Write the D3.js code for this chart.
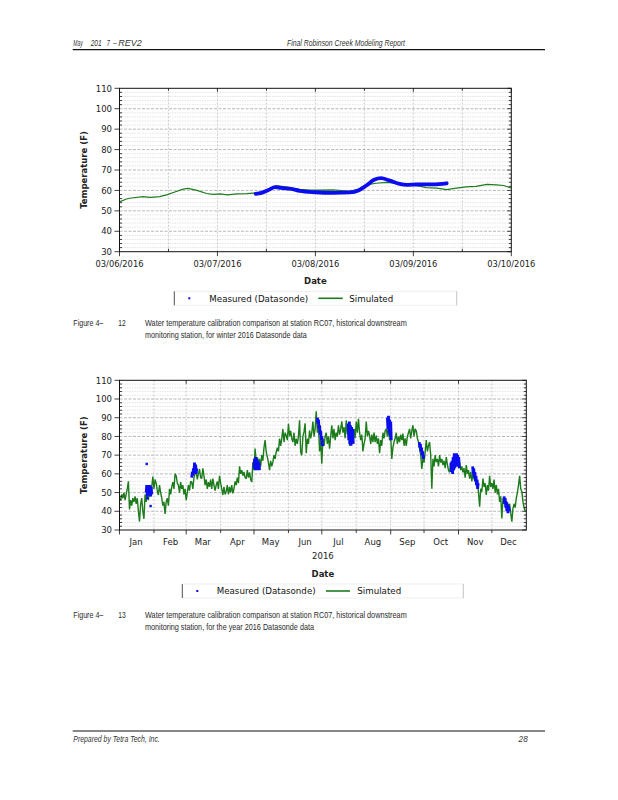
<!DOCTYPE html>
<html><head><meta charset="utf-8">
<script src="https://cdn.jsdelivr.net/npm/d3@7"></script>
<style>body{margin:0;background:#fff}svg{display:block}</style>
</head><body>
<svg id="page" width="618" height="800"></svg>
<script>
// ---------- data ----------
const yTickValues = [30, 40, 50, 60, 70, 80, 90, 100, 110];
const topXTickLabels = ["03/06/2016", "03/07/2016", "03/08/2016", "03/09/2016", "03/10/2016"];
const monthLabels = ["Jan","Feb","Mar","Apr","May","Jun","Jul","Aug","Sep","Oct","Nov","Dec"];
const legendLabels = ["Measured (Datasonde)", "Simulated"];

// winter chart (days after 03/06/2016 00:00)
const winterSimDay  = [0,0.07,0.12,0.24,0.31,0.41,0.48,0.55,0.65,0.7,0.79,0.89,0.96,1.03,1.1,1.2,1.3,1.4,1.5,1.6,1.7,1.84,1.95,2.01,2.18,2.35,2.45,2.52,2.62,2.73,2.83,2.93,3.03,3.13,3.24,3.34,3.44,3.54,3.64,3.75,3.85,3.92,4.0];
const winterSimTemp = [54.4,55.8,56.3,57,56.6,57,57.8,59,60.6,61,60,58.5,58.1,58.3,57.8,58.3,58.4,58.8,59.4,62.3,61.7,60.5,60.1,60.1,60.3,59.6,60.8,62.7,63.5,63.9,63.4,62.7,62.4,61.4,61.1,60.4,61.1,61.7,62,63,62.7,62.4,61.2];
const winterObsDay  = [1.39,1.45,1.52,1.59,1.65,1.75,1.84,2.0,2.18,2.35,2.44,2.52,2.6,2.67,2.76,2.86,2.93,3.03,3.2,3.34];
const winterObsTemp = [58.3,58.8,60.2,61.6,61.2,60.8,59.8,59.1,58.8,59,60,62.4,65.2,66,64.8,63.2,62.7,62.9,63,63.5];

// year chart: simulated, one value per day from 01/01/2016
const yearSimTemp = [
47,46,49,47,50,46,49,52,56,41, 46,43,47,45,48,44,47,40,34.5,44,
47,40,36,49,45,50.5,46,51,48,53, 58.5,52,57,55,51,48.7,54,50,47,43,
45,38.6,45,47,43,52,49,53,55.6,52, 60,59,55,54,50,55.6,52,54,49,52,
46,50,54,51,56,55.6,52,58,60,61, 57,60,62.6,58,57.5,63,59,54,57,52,
55.6,53,57,52,57.5,54,51,54,56,52, 59,55,52,48.7,53,49,50.5,54,49,53,
50,54,49.6,52,56,54,58,55,64,60, 62,59,61,58,57.5,62,58,60.8,57,55.6,
66.3,62,73.5,66,69,65.4,68,64,70,67, 74,78,71.7,69,66,62,67,64,66.3,70,
68,71.7,74,72,78.8,75,79,84,77,82, 80.5,78,86.8,80,83,78.8,77,82,75,78.8,
76,80,88.6,71.7,70,80,82.4,87,71,78.8, 76,83.2,79,82,88,80,84,93.4,82,86,
72,78,65.4,79,75,80,82,76,80,73.5, 80,86,79,84,78,82,80,86,81,84,
88,82,85,79,88.6,81,84,75,80,78, 80.5,84,79,88,82,89.4,82,78,81,72,
76,79,88,80,83,80.5,76,81,77,82, 77,80.5,76,79,71,78,75,82,79,83,
84,80,85,78,80,68,74,77,79,82, 76,80,77,81,78,81.5,75,79,75,80,
82,84,79,83,86,80,84,83,79,77, 73.5,70,62.6,68,66,71.7,78,72,75,77,
70,52,68,64,70,66.3,68,64,70,66, 68,64.7,67,63,69,65,62,60.8,66,63,
62.6,68,65,70,64,68,66.3,62,64,60.8, 63,58,64.7,60,62,57.5,61,56,60.8,57,
59,54,56,50,42.4,52,50.5,57.5,53,55, 48.7,54,51,59,53,55,52,57,50,54,
49,52,45,48,36.2,47,44,46,43,45, 40,44,39,34.4,41.6,44,42,47,50,54,
59,52,50.5,45,42,40];

// year chart: measured deployments (start day, half-day samples)
const obsStartDay = [24, 65, 121, 178, 205.8, 241, 269.7, 298.2, 317.7, 346];
const obsTemps = [
  [50,54,48,53,49,54,50,54,48,53,49],
  [58,61,59,63,60,66,61,65,60,63],
  [63,68,62,69,62,68,63,67,62,66,62],
  [90,87,89,84,86,81,83,78,80,75,76],
  [87,78,88,76,86,75,85,77,84,76],
  [90,84,91,82,89,80,88,78],
  [77,74,76,72,74,70,72,68,70],
  [66,61,67,60,69,62,71,63,70,64,71,65,70,64,69,63],
  [64,60,63,58,61,56,59,54,57,52,55],
  [48,44,47,42,45,40,44,39,43,40]
];
const obsSingleDay  = [24.5, 25, 28];
const obsSingleTemp = [65.3, 47, 42.8];

// ---------- drawing ----------
const GREEN = "#1c7c1c", BLUE = "#0c0cf0";
const TICKFONT = "'DejaVu Sans', Verdana, sans-serif";
const NARROW = "'Liberation Sans Narrow', 'Arial Narrow', sans-serif";
const svg = d3.select("#page");
const DAY = 86400000;

function text(g, x, y, s, o = {}) {
  const t = g.append("text").attr("x", x).attr("y", y).text(s)
    .attr("font-family", o.family || TICKFONT).attr("font-size", o.size || 8.5)
    .attr("fill", o.fill || "#222").attr("text-anchor", o.anchor || "start");
  if (o.weight) t.attr("font-weight", o.weight);
  if (o.style) t.attr("font-style", o.style);
  if (o.len) t.attr("textLength", o.len).attr("lengthAdjust", "spacingAndGlyphs");
  return t;
}

function frame(L, R, T, B, x, gridX) {
  const g = svg.append("g");
  const y = d3.scaleLinear().domain([30, 110]).range([B, T]);
  const minorY = d3.range(32, 110, 2).filter(v => v % 10 !== 0);
  g.selectAll(".hm").data(minorY).join("line")
    .attr("x1", L).attr("x2", R).attr("y1", d => y(d)).attr("y2", d => y(d))
    .attr("stroke", "#d4d4d4").attr("stroke-width", 0.6).attr("stroke-dasharray", "1.5,1");
  g.selectAll(".vg").data(gridX).join("line")
    .attr("x1", d => x(d)).attr("x2", d => x(d)).attr("y1", T).attr("y2", B)
    .attr("stroke", "#b0b0b0").attr("stroke-width", 0.6).attr("stroke-dasharray", "2,1.5");
  g.selectAll(".hM").data(yTickValues.slice(1, -1)).join("line")
    .attr("x1", L).attr("x2", R).attr("y1", d => y(d)).attr("y2", d => y(d))
    .attr("stroke", "#999").attr("stroke-width", 0.7).attr("stroke-dasharray", "3,1.5");
  return {g, y};
}

function axes(g, L, R, T, B, x, y, majorX, minorX) {
  const minorY = d3.range(32, 110, 2).filter(v => v % 10 !== 0);
  const tk = (x1, y1, x2, y2) => g.append("line").attr("x1", x1).attr("y1", y1).attr("x2", x2).attr("y2", y2)
    .attr("stroke", "#111").attr("stroke-width", 0.8);
  yTickValues.forEach(v => { tk(L - 5, y(v), L, y(v)); tk(R - 4, y(v), R, y(v)); });
  minorY.forEach(v => { tk(L, y(v), L + 2.5, y(v)); tk(R - 2.5, y(v), R, y(v)); });
  majorX.forEach(d => { tk(x(d), B, x(d), B + 4.5); tk(x(d), T, x(d), T + 3.5); });
  minorX.forEach(d => { tk(x(d), B, x(d), B - 3); tk(x(d), T, x(d), T + 2.5); });
  g.append("rect").attr("x", L).attr("y", T).attr("width", R - L).attr("height", B - T)
    .attr("fill", "none").attr("stroke", "#111").attr("stroke-width", 1);
  yTickValues.forEach(v => text(g, L - 7.5, y(v) + 3.2, v, {anchor: "end"}));
  text(g, 0, 0, "Temperature (F)", {weight: "bold", anchor: "middle"})
    .attr("transform", `translate(${L - 32.5},${(T + B) / 2}) rotate(-90)`);
}

function legend(g, x0, x1, yc, pos) {
  g.append("rect").attr("x", x0).attr("y", yc - 7).attr("width", x1 - x0).attr("height", 14)
    .attr("fill", "none").attr("stroke", "#ececec").attr("stroke-width", 0.8);
  g.append("line").attr("x1", x0).attr("x2", x0).attr("y1", yc - 7).attr("y2", yc + 7)
    .attr("stroke", "#555").attr("stroke-width", 1);
  g.append("line").attr("x1", x1).attr("x2", x1).attr("y1", yc - 7).attr("y2", yc + 7)
    .attr("stroke", "#bbb").attr("stroke-width", 0.8);
  g.append("rect").attr("x", pos[0] - 1).attr("y", yc - 1).attr("width", 2).attr("height", 2).attr("fill", BLUE);
  text(g, pos[1], yc + 3.2, legendLabels[0], {size: 8.7, fill: "#111"});
  g.append("line").attr("x1", pos[2]).attr("x2", pos[3]).attr("y1", yc).attr("y2", yc)
    .attr("stroke", GREEN).attr("stroke-width", 1.6);
  text(g, pos[4], yc + 3.2, legendLabels[1], {size: 8.7, fill: "#111"});
}

// ---------- page header / footer ----------
const hdr = svg.append("g");
const hopt = {family: NARROW, size: 8.2, style: "italic", fill: "#333"};
const H = (o) => Object.assign({}, hopt, o);
text(hdr, 73.3, 46.3, "May", H({len: 9.4}));
text(hdr, 90.7, 46.3, "201", H({len: 11}));
text(hdr, 106.7, 46.3, "7", H({len: 3.2}));
text(hdr, 113, 46.3, "–", H({len: 4}));
text(hdr, 118.3, 46.3, "REV2", H({len: 23.4}));
text(hdr, 287, 46.3, "Final Robinson Creek Modeling Report", H({len: 118}));
hdr.append("line").attr("x1", 72.7).attr("x2", 545).attr("y1", 49.7).attr("y2", 49.7).attr("stroke", "#111").attr("stroke-width", 1.2);
hdr.append("line").attr("x1", 72.7).attr("x2", 545).attr("y1", 731).attr("y2", 731).attr("stroke", "#111").attr("stroke-width", 1.2);
text(hdr, 73.3, 742.3, "Prepared by Tetra Tech, Inc.", H({len: 86.5}));
text(hdr, 527.7, 742.3, "28", H({anchor: "end"}));

const copt = {family: NARROW, size: 9.8, fill: "#2a2a2a"};
const C = (o) => Object.assign({}, copt, o);

// ---------- chart 1 ----------
{
  const L = 119.5, R = 511.3, T = 88.3, B = 251.7;
  const t0 = new Date(2016, 2, 6), t1 = new Date(2016, 2, 10);
  const x = d3.scaleTime().domain([t0, t1]).range([L, R]);
  const toDate = d => new Date(t0.getTime() + d * DAY);
  const majorX = d3.timeDay.range(t0, new Date(2016, 2, 10, 1));
  const minorX = d3.timeHour.every(12).range(t0, t1).filter(d => d.getHours() === 12);
  const gridX = majorX.concat(minorX).filter(d => +d !== +t0 && +d !== +t1);
  const {g, y} = frame(L, R, T, B, x, gridX);
  const line = d3.line().x(d => x(toDate(d[0]))).y(d => y(d[1]));
  g.append("path").datum(d3.zip(winterSimDay, winterSimTemp)).attr("d", line)
    .attr("fill", "none").attr("stroke", GREEN).attr("stroke-width", 1.2);
  g.append("path").datum(d3.zip(winterObsDay, winterObsTemp)).attr("d", line.curve(d3.curveMonotoneX))
    .attr("fill", "none").attr("stroke", BLUE).attr("stroke-width", 3.8).attr("stroke-linecap", "round");
  axes(g, L, R, T, B, x, y, majorX, minorX);
  majorX.forEach((d, i) => text(g, x(d), 266.7, topXTickLabels[i], {anchor: "middle", len: 48}));
  text(g, (L + R) / 2, 284.3, "Date", {weight: "bold", anchor: "middle"});
  legend(g, 174.3, 456.7, 298.3, [189.3, 209.3, 318.3, 342.7, 349.3]);
  text(g, 73.3, 326.2, "Figure 4–", C({len: 30}));
  text(g, 118.3, 326.2, "12", C({len: 7.4}));
  text(g, 145, 326.2, "Water temperature calibration comparison at station RC07, historical downstream", C({len: 261.7}));
  text(g, 145, 337.6, "monitoring station, for winter 2016 Datasonde data", C({len: 161.7}));
}

// ---------- chart 2 ----------
{
  const L = 119.5, R = 526.3, T = 380.3, B = 530;
  const t0 = new Date(2016, 0, 1), t1 = new Date(2017, 0, 1);
  const x = d3.scaleTime().domain([t0, t1]).range([L, R]);
  const toDate = d => new Date(t0.getTime() + d * DAY);
  const months = d3.timeMonth.range(t0, t1);
  const majorX = months.filter(d => d.getMonth() % 2 === 0);
  const minorX = months.filter(d => d.getMonth() % 2 === 1);
  const gridX = months.slice(1);
  const {g, y} = frame(L, R, T, B, x, gridX);
  const line = d3.line().x(d => x(toDate(d[0]))).y(d => y(d[1]));
  g.append("path").datum(yearSimTemp.map((v, i) => [i, v])).attr("d", line)
    .attr("fill", "none").attr("stroke", GREEN).attr("stroke-width", 1.4).attr("stroke-linejoin", "bevel");
  obsTemps.forEach((arr, k) => {
    g.append("path").datum(arr.map((v, i) => [obsStartDay[k] + i * 0.5, v])).attr("d", line)
      .attr("fill", "none").attr("stroke", BLUE).attr("stroke-width", 2.8);
  });
  g.selectAll(".od").data(d3.zip(obsSingleDay, obsSingleTemp)).join("rect")
    .attr("x", d => x(toDate(d[0])) - 1.2).attr("y", d => y(d[1]) - 1.2)
    .attr("width", 2.4).attr("height", 2.4).attr("fill", BLUE);
  axes(g, L, R, T, B, x, y, majorX, []);
  minorX.forEach(d => g.append("line").attr("x1", x(d)).attr("x2", x(d)).attr("y1", B).attr("y2", B + 3)
    .attr("stroke", "#111").attr("stroke-width", 0.8));
  monthLabels.forEach((m, i) => text(g, x(new Date(2016, i, 16)), 544.5, m, {anchor: "middle"}));
  text(g, (L + R) / 2, 559, "2016", {anchor: "middle"});
  text(g, (L + R) / 2, 576.7, "Date", {weight: "bold", anchor: "middle"});
  legend(g, 182.3, 463.3, 591, [197.3, 216.7, 326, 350, 357.3]);
  text(g, 73.3, 618, "Figure 4–", C({len: 30}));
  text(g, 118.3, 618, "13", C({len: 7.4}));
  text(g, 145, 618, "Water temperature calibration comparison at station RC07, historical downstream", C({len: 261.7}));
  text(g, 145, 629.6, "monitoring station, for the year 2016 Datasonde data", C({len: 169}));
}
</script>
</body></html>
